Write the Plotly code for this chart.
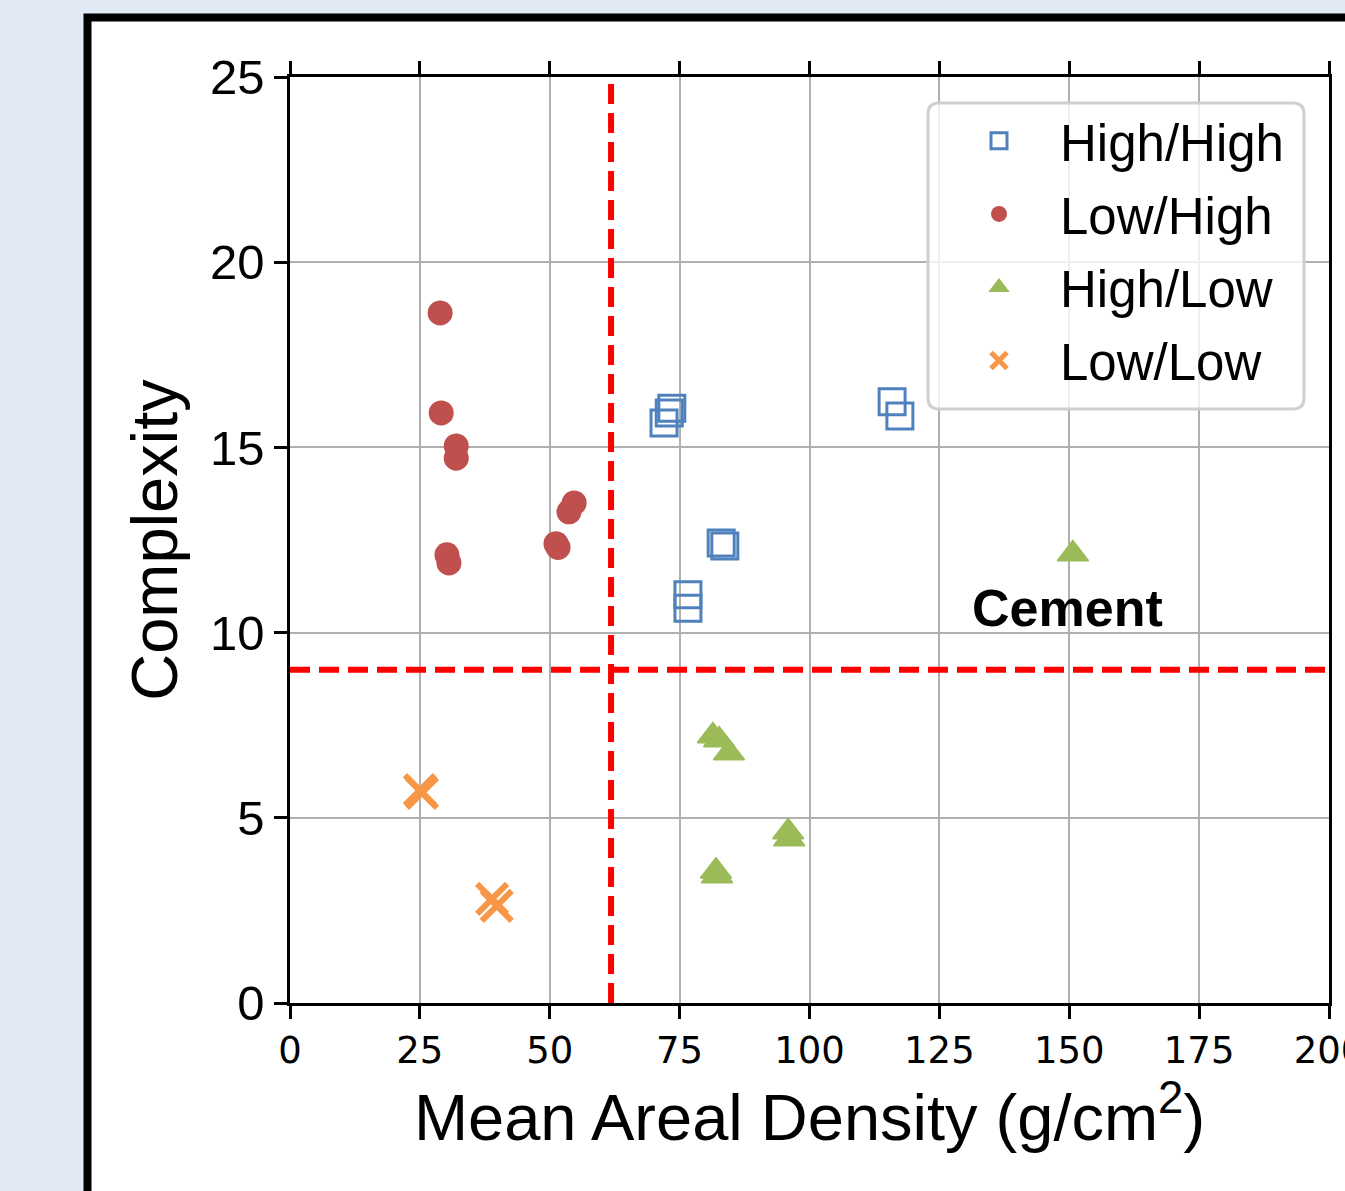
import plotly.graph_objects as go

# Mean areal density (g/cm^2) and complexity for each group
hh_density = [72.0, 73.0, 73.5, 83.0, 83.7, 76.6, 76.6, 115.9, 117.4]
hh_complexity = [15.66, 15.93, 16.06, 12.42, 12.34, 11.02, 10.66, 16.23, 15.85]

lh_density = [28.9, 29.1, 32.0, 32.0, 30.2, 30.6, 51.2, 51.6, 53.7, 54.7]
lh_complexity = [18.63, 15.93, 15.04, 14.71, 12.10, 11.88, 12.40, 12.30, 13.26, 13.50]

hl_density = [81.4, 82.6, 84.5, 82.0, 82.2, 95.9, 96.1, 150.7]
hl_complexity = [7.21, 7.10, 6.75, 3.56, 3.43, 4.62, 4.43, 12.12]

ll_density = [25.0, 25.4, 38.9, 39.8]
ll_complexity = [5.75, 5.67, 2.81, 2.62]

# Threshold lines splitting the quadrants
density_threshold = 61.8
complexity_threshold = 9.0

x_ticks = [0, 25, 50, 75, 100, 125, 150, 175, 200]
y_ticks = [0, 5, 10, 15, 20, 25]

label_text = "Cement"
label_x = 149.6
label_y = 10.66

SANS = "Liberation Sans, Arial, sans-serif"
BLUE = "#4f81bd"
RED = "#c0504d"
GREEN = "#9bbb59"
ORANGE = "#f79646"

fig = go.Figure()

fig.add_trace(go.Scatter(
    x=hh_density, y=hh_complexity, mode="markers", name="High/High",
    legendgroup="hh",
    marker=dict(symbol="square-open", size=26, color=BLUE, line=dict(width=3, color=BLUE)),
))
fig.add_trace(go.Scatter(
    x=lh_density, y=lh_complexity, mode="markers", name="Low/High",
    legendgroup="lh",
    marker=dict(symbol="circle", size=25, color=RED, line=dict(width=0)),
))
fig.add_trace(go.Scatter(
    x=hl_density, y=hl_complexity, mode="markers", name="High/Low",
    legendgroup="hl",
    marker=dict(symbol="triangle-up", size=27, color=GREEN, line=dict(width=1.5, color=GREEN)),
))
fig.add_trace(go.Scatter(
    x=ll_density, y=ll_complexity, mode="markers", name="Low/Low",
    legendgroup="ll",
    marker=dict(symbol="x-thin-open", size=30, color=ORANGE, line=dict(width=6, color=ORANGE)),
))

# Plot geometry in pixels (used to place the decorative frame and legend box)
W, H = 1345, 1191
ML, MR, MT, MB = 290, 16, 77, 188
PW = W - ML - MR
PH = H - MT - MB


def px_x(p):
    return (p - ML) / PW


def px_y(p):
    return (H - MB - p) / PH


shapes = []
# white card with heavy black border behind the chart
shapes.append(dict(
    type="rect", xref="paper", yref="paper", layer="below",
    x0=px_x(87.5), x1=px_x(1420), y0=px_y(1260), y1=px_y(17.5),
    line=dict(color="black", width=8), fillcolor="white",
))
# threshold lines
shapes.append(dict(
    type="line", xref="x", yref="paper", x0=density_threshold, x1=density_threshold,
    y0=0, y1=1, line=dict(color="#ff0000", width=6, dash="20px,9px"),
))
shapes.append(dict(
    type="line", xref="paper", yref="y", x0=0, x1=1,
    y0=complexity_threshold, y1=complexity_threshold,
    line=dict(color="#ff0000", width=6, dash="20px,9px"),
))

# rounded legend frame
bx0, bx1, by0, by1, r = 928, 1304, 103, 409, 11
rx, ry = r / PW, r / PH
X0, X1, Y0, Y1 = px_x(bx0), px_x(bx1), px_y(by1), px_y(by0)
path = (
    f"M {X0 + rx},{Y1} L {X1 - rx},{Y1} Q {X1},{Y1} {X1},{Y1 - ry} "
    f"L {X1},{Y0 + ry} Q {X1},{Y0} {X1 - rx},{Y0} "
    f"L {X0 + rx},{Y0} Q {X0},{Y0} {X0},{Y0 + ry} "
    f"L {X0},{Y1 - ry} Q {X0},{Y1} {X0 + rx},{Y1} Z"
)
shapes.append(dict(
    type="path", xref="paper", yref="paper", path=path, layer="above",
    fillcolor="rgba(255,255,255,0.8)", line=dict(color="#d0d0d0", width=3),
))

fig.update_layout(
    width=W, height=H,
    margin=dict(l=ML, r=MR, t=MT, b=MB, autoexpand=False),
    paper_bgcolor="#e0e9f4",
    plot_bgcolor="white",
    shapes=shapes,
    showlegend=True,
    legend=dict(
        x=px_x(938), y=px_y(101), xanchor="left", yanchor="top",
        bgcolor="rgba(0,0,0,0)", borderwidth=0,
        font=dict(family=SANS, size=51, color="black"),
        itemwidth=112, tracegroupgap=4,
    ),
    annotations=[dict(
        x=label_x, y=label_y, xref="x", yref="y", text=f"<b>{label_text}</b>",
        showarrow=False, font=dict(family=SANS, size=52, color="black"),
    )],
)

fig.update_xaxes(
    range=[0, 200], tickvals=x_ticks, ticktext=[str(t) for t in x_ticks],
    automargin=False,
    showgrid=True, gridcolor="#b0b0b0", gridwidth=2,
    showline=True, linecolor="black", linewidth=2.5, mirror="allticks",
    ticks="outside", ticklen=13, tickwidth=2.5, tickcolor="black",
    tickfont=dict(family="DejaVu Sans", size=37, color="black"),
    ticklabeloverflow="allow",
    zeroline=False,
    title=dict(text="Mean Areal Density (g/cm<sup>2</sup>)",
               font=dict(family=SANS, size=65, color="black"), standoff=20),
)
fig.update_yaxes(
    range=[0, 25], tickvals=y_ticks, ticktext=[str(t) for t in y_ticks],
    automargin=False,
    showgrid=True, gridcolor="#b0b0b0", gridwidth=2,
    showline=True, linecolor="black", linewidth=2.5, mirror=True,
    ticks="outside", ticklen=13, tickwidth=2.5, tickcolor="black",
    tickfont=dict(family=SANS, size=49, color="black"),
    zeroline=False,
    title=dict(text="Complexity", font=dict(family=SANS, size=65, color="black"), standoff=12),
)

fig.write_html("out.html")
